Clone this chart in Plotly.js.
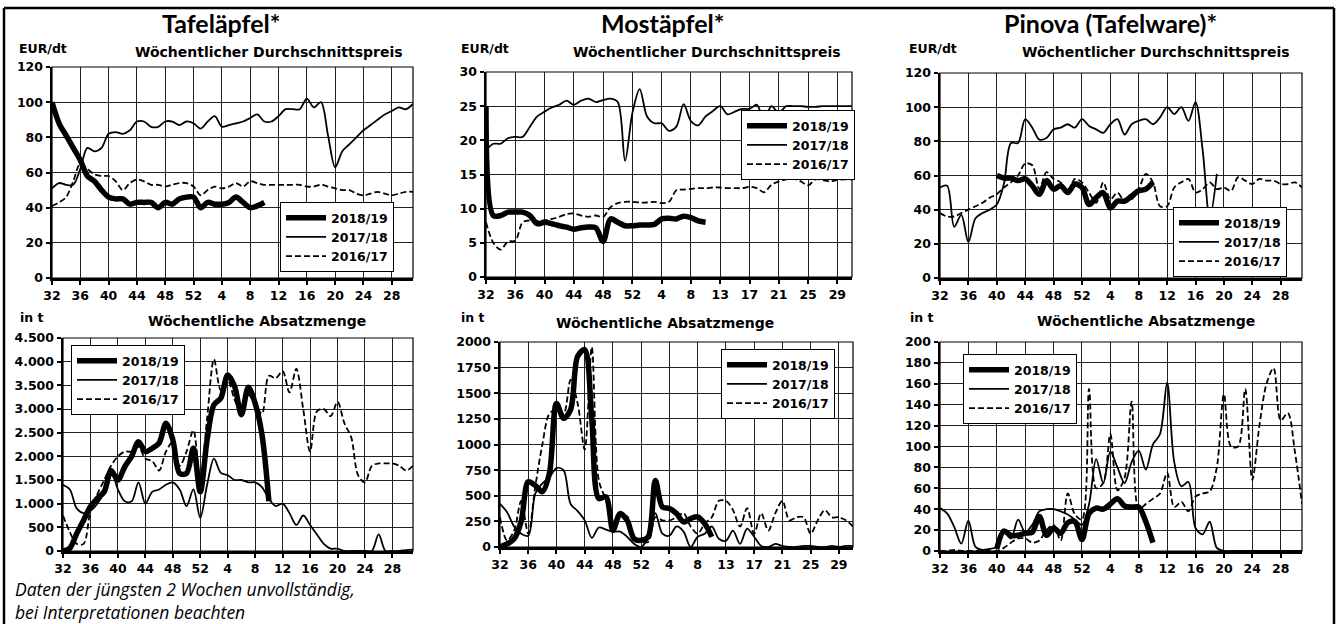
<!DOCTYPE html>
<html><head><meta charset="utf-8">
<script src="https://cdn.plot.ly/plotly-3.0.1.min.js"></script>
<style>html,body{margin:0;padding:0;background:#fff;}#chart{width:1337px;height:624px;}</style>
</head><body><div id="chart"></div>
<script>
// ---------- categories ----------
const weeksA = ["32","33","34","35","36","37","38","39","40","41","42","43","44","45","46","47","48","49","50","51","52","1","2","3","4","5","6","7","8","9","10","11","12","13","14","15","16","17","18","19","20","21","22","23","24","25","26","27","28","29","30","31"];
const weeksM = ["32","33","34","35","36","37","38","39","40","41","42","43","44","45","46","47","48","49","50","51","52","1","2","3","4","5","6","7","8","9","10","11","13","14","15","16","17","18","19","20","21","22","23","24","25","26","27","28","29","30","31"];
const ticksA = ["32","36","40","44","48","52","4","8","12","16","20","24","28"];
const ticksM = ["32","36","40","44","48","52","4","8","13","17","21","25","29"];
const seasons = ["2018/19","2017/18","2016/17"];

// ---------- Tafeläpfel: Preis (EUR/dt) ----------
const tafPreis1819 = [100,88,81,74,67,58,55,50,46,45,45,42,43,43,43,40,43,42,45,46,46,40,43,42,42,43,46,43,40,41,43];
const tafPreis1718 = [51,54,53,53,62,74,72,74,82,83,82,84,89,89,86,86,89,89,87,89,88,85,89,92,86,87,88,89,91,93,89,89,92,96,96,96,102,97,100,81,63,72,76,80,84,87,90,93,95,97,96,99];
const tafPreis1617 = [41,43,46,55,65,62,59,58,58,55,50,54,56,55,53,53,52,53,54,54,52,47,50,52,51,52,54,52,55,54,53,53,53,53,53,53,52,52,53,52,51,50,50,48,47,48,49,48,47,48,49,49];

// ---------- Mostäpfel: Preis (EUR/dt) ----------
const mostPreis1819 = [25,9,9,9.5,9.5,9.5,9,7.8,8,7.8,7.5,7.3,7,7.2,7.3,7.2,5.2,8.5,8,7.5,7.5,7.6,7.6,7.7,8.5,8.6,8.5,8.9,8.7,8.2,8.0];
const mostPreis1718 = [18.5,19.5,19.5,20.3,20.5,20.5,22,23.5,24.2,24.8,25.2,25.8,25.2,25.8,26.1,25.6,25.9,26.1,25.6,17,24,27.5,23.5,22.5,22.5,21.4,22,25.3,22.8,22.2,23.5,24.3,25,23.8,24.2,24.6,24.6,25.2,23,25,24,25,25,25,24.9,24.9,25,25,25,25,25];
const mostPreis1617 = [8,5,4,5.2,5.3,8,8.3,8.2,8.3,8.5,8.8,9.2,9.3,9,8.8,9,8.8,10.2,10.8,11,11,10.9,10.9,11,10.8,11,12.7,12.8,12.9,13,13,13.1,13.1,13,13,13,13.2,13,12.4,13.5,14,14.3,14.4,14,13.4,14.3,14.2,14,14.2,14.3,14.3];

// ---------- Pinova: Preis (EUR/dt) ----------
const pinPreis1819 = [60,58.5,58.5,57,58,54,49,57,52,54,50,55,53,43,47,50,41,45,45,48,51,52,56]; // ab KW 40
const pinPreis1718 = [53,54,30,37,21,35,38,40,43,55,79,79,93,88,81,82,87,88,90,88,93,89,87,85,90,93,84,90,92,93,90,94,100,96,100,92,103,75,35,61];
const pinPreis1617 = [38,36,36,38,40,42,44,47,49,53,56,60,67,66,52,62,58,56,50,58,56,50,44,56,46,50,45,46,52,61,56,42,42,53,56,58,50,52,56,52,53,51,59,57,55,58,57,57,55,55,56,53];

// ---------- Tafeläpfel: Absatz (t) ----------
const tafMenge1819 = [0,60,370,650,940,1110,1250,1700,1500,1780,2000,2310,2100,2170,2280,2700,2350,1640,1640,2170,1250,2350,3090,3230,3720,3480,2880,3460,3120,2450,1050];
const tafMenge1718 = [1400,1300,900,800,850,1000,1250,1700,1300,1050,1050,1450,1000,1250,1300,1400,1450,1300,950,1300,700,1400,1950,1650,1600,1500,1500,1450,1450,1350,1100,950,1000,800,550,750,550,350,150,50,50,0,0,0,0,0,350,0,0,0,20,30];
const tafMenge1617 = [750,400,150,150,850,1200,1500,1800,2000,2100,2100,2200,1950,1900,1700,2100,2300,1800,2100,2550,1500,2800,4050,3400,3600,3200,2900,3300,3100,2900,3700,3650,3800,3350,3850,3000,2100,2950,3000,2850,3150,2700,2400,1600,1450,1800,1850,1850,1850,1800,1700,1800];

// ---------- Mostäpfel: Absatz (t) ----------
const mostMenge1819 = [0,30,80,250,636,600,540,720,1400,1256,1340,1860,1925,1250,473,490,163,326,260,80,65,100,650,390,375,326,245,277,294,228,98];
const mostMenge1718 = [420,340,200,130,110,520,620,680,770,750,420,350,260,90,190,170,150,150,100,30,0,100,330,130,110,200,150,0,100,130,200,80,60,160,30,180,100,10,0,30,10,0,0,10,10,0,0,10,0,10,10];
const mostMenge1617 = [290,65,160,450,130,590,1000,1300,1340,1300,1630,1400,950,1950,650,460,200,300,300,100,50,50,290,260,260,290,330,200,130,230,290,450,450,360,200,380,130,330,160,330,450,260,290,290,130,260,360,290,290,260,200];

// ---------- Pinova: Absatz (t) ----------
const pinMenge1819 = [2,19,15,15,17,18,33,15,22,17,27,28,11,36,41,40,45,50,43,42,42,28,8]; // ab KW 40
const pinMenge1718 = [41,36,23,7,29,4,1,2,4,18,12,30,18,25,38,40,40,38,35,30,25,45,88,65,95,80,65,85,96,78,102,112,161,85,62,66,22,16,28,3,0,0,0,0,0,0,0,0,0,0,0,0];
const pinMenge1617 = [0,0,1,0,0,0,0,0,0,3,8,12,12,8,10,20,25,10,55,35,30,155,60,65,112,58,70,143,40,45,50,55,75,42,47,38,52,55,57,80,150,100,100,155,68,120,160,175,125,132,95,45];

// ---------- layout helpers ----------
const W = 1337, H = 624;
const style = {
  "2018/19": {width: 5.5, dash: "solid"},
  "2017/18": {width: 1.8, dash: "solid"},
  "2016/17": {width: 1.8, dash: "6px,3px"}
};
const tickFont = {family: "DejaVu Sans", size: 12.5, color: "#000", weight: "bold"};

const panels = [
  {n:1, weeks:weeksA, ticks:ticksA, box:[52,413,67,278], yr:[0,120], dt:20, fmt:"d", leg:[280,202],
   s:[[tafPreis1819,"32"],[tafPreis1718,"32"],[tafPreis1617,"32"]]},
  {n:2, weeks:weeksM, ticks:ticksM, box:[486,852,72,277], yr:[0,30], dt:5, fmt:"d", leg:[741,110],
   s:[[mostPreis1819,"32"],[mostPreis1718,"32"],[mostPreis1617,"32"]]},
  {n:3, weeks:weeksA, ticks:ticksA, box:[940,1302,73,278], yr:[0,120], dt:20, fmt:"d", leg:[1173,207],
   s:[[pinPreis1819,"40"],[pinPreis1718,"32"],[pinPreis1617,"32"]]},
  {n:4, weeks:weeksA, ticks:ticksA, box:[63,413,338,551], yr:[0,4500], dt:500, fmt:",d", leg:[71,345],
   s:[[tafMenge1819,"32"],[tafMenge1718,"32"],[tafMenge1617,"32"]]},
  {n:5, weeks:weeksM, ticks:ticksM, box:[500,853,342,547], yr:[0,2000], dt:250, fmt:"d", leg:[721,349],
   s:[[mostMenge1819,"32"],[mostMenge1718,"32"],[mostMenge1617,"32"]]},
  {n:6, weeks:weeksA, ticks:ticksA, box:[940,1302,342,551], yr:[0,200], dt:20, fmt:"d", leg:[963,354],
   s:[[pinMenge1819,"40"],[pinMenge1718,"32"],[pinMenge1617,"32"]]}
];

const traces = [];
const layout = {
  width: W, height: H, margin: {l:0, r:0, t:0, b:0},
  paper_bgcolor: "#fff", plot_bgcolor: "#fff",
  separators: ",.",
  showlegend: true,
  font: {family: "DejaVu Sans", color: "#000"},
  shapes: [], annotations: []
};

panels.forEach(p => {
  const sx = p.n === 1 ? "" : String(p.n);
  const legId = p.n === 1 ? "legend" : "legend" + p.n;
  p.s.forEach((pair, k) => {
    const vals = pair[0], i0 = p.weeks.indexOf(pair[1]);
    const season = seasons[k];
    traces.push({
      type: "scatter", mode: "lines",
      x: p.weeks.slice(i0, i0 + vals.length), y: vals,
      name: season, legend: legId,
      xaxis: "x" + sx, yaxis: "y" + sx,
      line: {color: "#000", width: style[season].width, dash: style[season].dash, shape: "spline", smoothing: 0.9},
      hoverinfo: "skip"
    });
  });
  const [x0, x1, y0, y1] = p.box;
  layout["xaxis" + sx] = {
    domain: [x0 / W, x1 / W], anchor: "y" + sx,
    type: "category", categoryorder: "array", categoryarray: p.weeks,
    range: [0, p.weeks.length - 1], tickvals: p.ticks, ticktext: p.ticks,
    showgrid: true, gridcolor: "#222", gridwidth: 1,
    showline: true, linecolor: "#000", linewidth: 2.5,
    ticks: "outside", ticklen: 4, tickwidth: 2, tickcolor: "#000",
    tickfont: tickFont, zeroline: false, fixedrange: true
  };
  layout["yaxis" + sx] = {
    domain: [1 - y1 / H, 1 - y0 / H], anchor: "x" + sx,
    range: p.yr, dtick: p.dt, tick0: 0, tickformat: p.fmt,
    showgrid: true, gridcolor: "#222", gridwidth: 1,
    showline: true, linecolor: "#000", linewidth: 2.5,
    ticks: "outside", ticklen: 4, tickwidth: 2, tickcolor: "#000",
    tickfont: tickFont, zeroline: false, fixedrange: true
  };
  layout.shapes.push({type: "rect", xref: "x" + sx + " domain", yref: "y" + sx + " domain",
    x0: 0, x1: 1, y0: 0, y1: 1, line: {color: "#000", width: 1.2}, layer: "above"});
  layout[legId] = {
    x: p.leg[0] / W, y: 1 - p.leg[1] / H, xanchor: "left", yanchor: "top",
    bgcolor: "#fff", bordercolor: "#000", borderwidth: 1,
    font: {family: "DejaVu Sans", size: 12.5, color: "#000", weight: "bold"},
    itemwidth: 40, tracegroupgap: 0, traceorder: "normal"
  };
});

// frame
[[4,8,1334,8],[4,8,4,624],[1334,8,1334,624]].forEach(l => {
  layout.shapes.push({type: "line", xref: "paper", yref: "paper",
    x0: l[0] / W, y0: 1 - l[1] / H, x1: l[2] / W, y1: 1 - l[3] / H,
    line: {color: "#000", width: 2.5}});
});

function ann(text, px, py, font, xanchor) {
  layout.annotations.push({xref: "paper", yref: "paper", x: px / W, y: 1 - py / H,
    text: text, showarrow: false, xanchor: xanchor || "center", yanchor: "middle",
    align: xanchor || "center", borderpad: 0,
    font: Object.assign({color: "#000"}, font)});
}
const titleF = {family: "Lato", size: 25, weight: "bold"};
const subF = {family: "DejaVu Sans", size: 14, weight: "bold"};
const unitF = {family: "DejaVu Sans", size: 12.5, weight: "bold"};
ann("Tafeläpfel*", 221, 23, titleF);
ann("Mostäpfel*", 662, 23, titleF);
ann("Pinova (Tafelware)*", 1110, 23, titleF);
ann("EUR/dt", 18, 49, unitF, "left");
ann("EUR/dt", 460, 49, unitF, "left");
ann("EUR/dt", 908, 49, unitF, "left");
ann("Wöchentlicher Durchschnittspreis", 269, 52, subF);
ann("Wöchentlicher Durchschnittspreis", 707, 52, subF);
ann("Wöchentlicher Durchschnittspreis", 1156, 52, subF);
ann("in t", 19, 317, unitF, "left");
ann("in t", 460, 317, unitF, "left");
ann("in t", 909, 317, unitF, "left");
ann("Wöchentliche Absatzmenge", 257, 321, subF);
ann("Wöchentliche Absatzmenge", 665, 323, subF);
ann("Wöchentliche Absatzmenge", 1146, 321, subF);
const footF = {family: "Open Sans", size: 17.5, style: "italic"};
ann("Daten der jüngsten 2 Wochen unvollständig,<br>bei Interpretationen beachten", 14, 600, footF, "left");

Plotly.newPlot("chart", traces, layout, {staticPlot: true, displayModeBar: false});
</script></body></html>
